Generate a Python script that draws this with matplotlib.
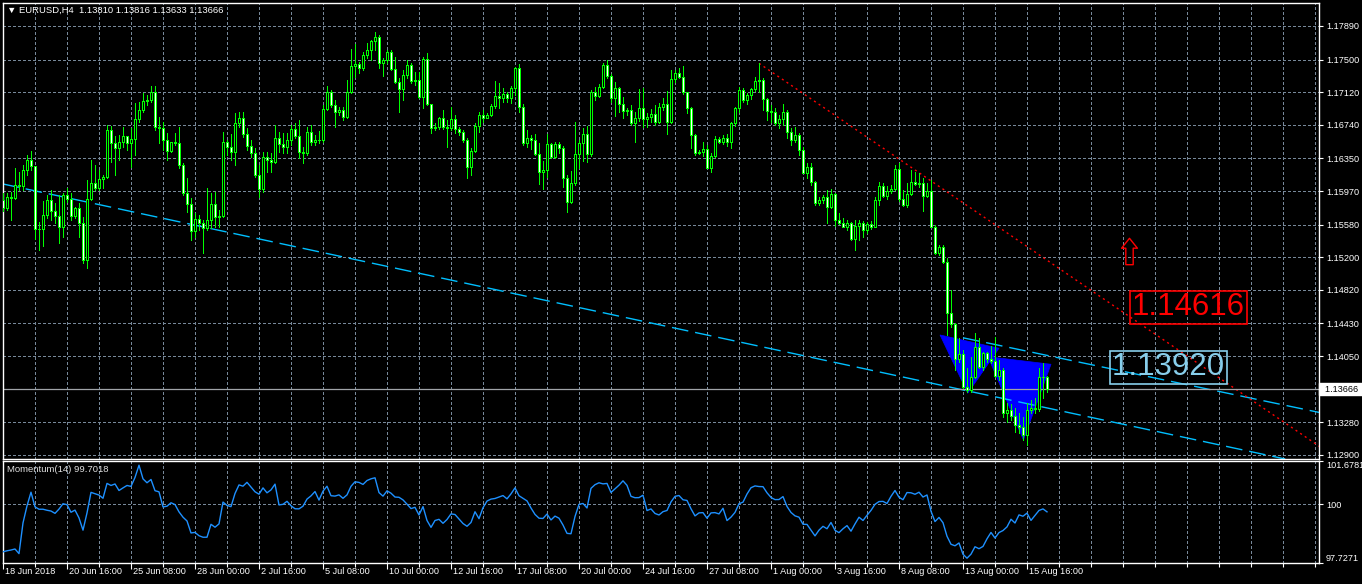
import numpy as np
import matplotlib
matplotlib.use('Agg')
import matplotlib.pyplot as plt
import matplotlib.transforms as mtransforms
from matplotlib.path import Path
from matplotlib.patches import Polygon

plt.rcParams['font.family'] = ['Liberation Sans', 'DejaVu Sans']

# ---- data (EURUSD H4, 18 Jun - 16 Aug 2018) ----
title_text = '\u25bc EURUSD,H4  1.13810 1.13816 1.13633 1.13666'
indicator_text = 'Momentum(14) 99.7018'

first_open = 1.15866
close = [
    1.15769, 1.15897, 1.15890, 1.16037, 1.16029, 1.16215, 1.16332, 1.16262, 1.15525, 1.15533,
    1.15692, 1.15866, 1.15742, 1.15680, 1.15556, 1.15924, 1.15874, 1.15680, 1.15769, 1.15603,
    1.15168, 1.15874, 1.16060, 1.16010, 1.16107, 1.16138, 1.16680, 1.16525, 1.16467, 1.16545,
    1.16611, 1.16525, 1.16572, 1.16805, 1.16913, 1.17018, 1.17029, 1.17126, 1.16719, 1.16700,
    1.16564, 1.16440, 1.16537, 1.16533, 1.16270, 1.15944, 1.15820, 1.15510, 1.15641, 1.15595,
    1.15537, 1.15634, 1.15816, 1.15665, 1.15680, 1.16541, 1.16487, 1.16428, 1.16758, 1.16816,
    1.16634, 1.16494, 1.16417, 1.16157, 1.15990, 1.16370,
    1.16332, 1.16312, 1.16584, 1.16514, 1.16487, 1.16564, 1.16692, 1.16615, 1.16429, 1.16409,
    1.16654, 1.16537, 1.16564, 1.16561, 1.16925, 1.17127, 1.16972, 1.16886, 1.16913, 1.16836,
    1.17119, 1.17429, 1.17445, 1.17398, 1.17553, 1.17611, 1.17716, 1.17759, 1.17456, 1.17499,
    1.17584, 1.17390, 1.17243, 1.17154, 1.17320, 1.17437, 1.17251, 1.17262, 1.17068, 1.17507,
    1.16979, 1.16708, 1.16720, 1.16816, 1.16720, 1.16700, 1.16809, 1.16692, 1.16654, 1.16564,
    1.16254, 1.16437, 1.16731, 1.16855, 1.16824, 1.16855, 1.16956, 1.17080, 1.17049, 1.17096,
    1.17057, 1.17165, 1.17398, 1.16952, 1.16526,
    1.16592, 1.16564, 1.16398, 1.16196, 1.16215, 1.16514, 1.16371, 1.16514, 1.16467, 1.16118,
    1.15847, 1.16060, 1.16398, 1.16526, 1.16630, 1.16398, 1.17119, 1.17080, 1.17185, 1.17437,
    1.17313, 1.17049, 1.17165, 1.16979, 1.16902, 1.16913, 1.16758, 1.16824, 1.16933, 1.16809,
    1.16836, 1.16871, 1.16770, 1.16952, 1.16979, 1.16770, 1.17274, 1.17340, 1.17301, 1.17119,
    1.16933, 1.16623, 1.16409, 1.16421, 1.16460, 1.16243, 1.16382, 1.16576, 1.16545, 1.16592,
    1.16537, 1.16758, 1.16933, 1.17146, 1.17030, 1.17088, 1.17158, 1.17251, 1.17262, 1.17037,
    1.16902, 1.16886, 1.16758, 1.16809, 1.16886, 1.16661,
    1.16564, 1.16622, 1.16448,
    1.16184, 1.16246, 1.16080, 1.15828, 1.15866, 1.15905, 1.15781, 1.15936, 1.15634, 1.15603,
    1.15556, 1.15603, 1.15409, 1.15564, 1.15603, 1.15518, 1.15587, 1.15556, 1.15866, 1.16029,
    1.15913, 1.15975, 1.15991, 1.16223, 1.15874, 1.15808, 1.15936, 1.16080, 1.16053, 1.16060,
    1.15913, 1.15975, 1.15556, 1.15254, 1.15324, 1.15149, 1.14556, 1.14424, 1.14013, 1.14075,
    1.13695, 1.13657, 1.13812, 1.14153, 1.13920, 1.14083, 1.14013, 1.13998, 1.13819, 1.13889,
    1.13393, 1.13424, 1.13354, 1.13250, 1.13230, 1.13133, 1.13424, 1.13443, 1.13432, 1.13812,
    1.13810, 1.13666,
]
high = [
    1.15944, 1.15944, 1.15963, 1.16235, 1.16196, 1.16273, 1.16390, 1.16440, 1.16262, 1.15614,
    1.15859, 1.15924, 1.15983, 1.15828, 1.15924, 1.15944, 1.16002, 1.15944, 1.15789, 1.15828,
    1.15672, 1.16099, 1.16332, 1.16273, 1.16215, 1.16157, 1.16739, 1.16727, 1.16611, 1.16622,
    1.16719, 1.16603, 1.16700, 1.16998, 1.17010, 1.17107, 1.17088, 1.17192, 1.17192, 1.16836,
    1.16777, 1.16642, 1.16545, 1.16642, 1.16719, 1.16293, 1.16118, 1.15886, 1.15711, 1.15692,
    1.15634, 1.16002, 1.15944, 1.15963, 1.15750, 1.16661, 1.16564, 1.16634, 1.16874, 1.16894,
    1.16894, 1.16700, 1.16564, 1.16467, 1.16273, 1.16428,
    1.16429, 1.16409, 1.16739, 1.16661, 1.16642, 1.16642, 1.16739, 1.16758, 1.16797, 1.16487,
    1.16720, 1.16739, 1.16623, 1.16669, 1.16972, 1.17192, 1.17146, 1.17030, 1.16952, 1.16952,
    1.17262, 1.17623, 1.17677, 1.17476, 1.17584, 1.17689, 1.17728, 1.17824, 1.17786, 1.17522,
    1.17611, 1.17611, 1.17534, 1.17282, 1.17379, 1.17495, 1.17456, 1.17359, 1.17359, 1.17534,
    1.17573, 1.16979, 1.16758, 1.16836, 1.16913, 1.16797, 1.16952, 1.16855, 1.16720, 1.16681,
    1.16592, 1.16475, 1.16758, 1.16886, 1.16913, 1.16875, 1.16979, 1.17251, 1.17224, 1.17165,
    1.17127, 1.17196, 1.17417, 1.17445, 1.16979,
    1.16681, 1.16623, 1.16630, 1.16526, 1.16320, 1.16630, 1.16526, 1.16537, 1.16545, 1.16498,
    1.16157, 1.16204, 1.16770, 1.16564, 1.16700, 1.16731, 1.17146, 1.17185, 1.17212, 1.17456,
    1.17495, 1.17328, 1.17243, 1.17185, 1.17068, 1.16933, 1.16971, 1.16886, 1.17158, 1.17173,
    1.16875, 1.16925, 1.16971, 1.16991, 1.17049, 1.17134, 1.17379, 1.17379, 1.17398, 1.17429,
    1.17127, 1.16952, 1.16630, 1.16448, 1.16537, 1.16506, 1.16409, 1.16615, 1.16603, 1.16623,
    1.16630, 1.16770, 1.16952, 1.17185, 1.17173, 1.17107, 1.17173, 1.17301, 1.17456, 1.17282,
    1.17057, 1.16971, 1.16933, 1.16855, 1.16979, 1.16913,
    1.16704, 1.16715, 1.16646,
    1.16487, 1.16293, 1.16293, 1.16091, 1.15905, 1.15925, 1.15983, 1.15991, 1.15944, 1.15711,
    1.15653, 1.15634, 1.15614, 1.15634, 1.15634, 1.15626, 1.15614, 1.15626, 1.15905, 1.16080,
    1.16060, 1.16029, 1.16041, 1.16274, 1.16293, 1.15983, 1.16060, 1.16215, 1.16196, 1.16177,
    1.16119, 1.16060, 1.16099, 1.15576, 1.15343, 1.15343, 1.15188, 1.14820, 1.14432, 1.14258,
    1.14122, 1.13909, 1.14044, 1.14316, 1.14258, 1.14102, 1.14102, 1.14168, 1.14277, 1.14006,
    1.13909, 1.13502, 1.13494, 1.13443, 1.13385, 1.13346, 1.13502, 1.13540, 1.13560, 1.13909,
    1.13967, 1.13816,
]
low = [
    1.15742, 1.15750, 1.15634, 1.15874, 1.15983, 1.15983, 1.16157, 1.16215, 1.15409, 1.15285,
    1.15331, 1.15653, 1.15634, 1.15595, 1.15362, 1.15440, 1.15847, 1.15634, 1.15653, 1.15440,
    1.15130, 1.15072, 1.15866, 1.15983, 1.15983, 1.16002, 1.16118, 1.16312, 1.16157, 1.16332,
    1.16487, 1.16448, 1.16254, 1.16390, 1.16777, 1.16894, 1.16971, 1.17010, 1.16680, 1.16525,
    1.16448, 1.16332, 1.16428, 1.16506, 1.16235, 1.15924, 1.15731, 1.15401, 1.15440, 1.15517,
    1.15246, 1.15517, 1.15537, 1.15556, 1.15556, 1.15665, 1.16390, 1.16332, 1.16273, 1.16719,
    1.16603, 1.16448, 1.16370, 1.16138, 1.15905, 1.15963,
    1.16196, 1.16196, 1.16293, 1.16429, 1.16409, 1.16409, 1.16506, 1.16584, 1.16351, 1.16293,
    1.16390, 1.16506, 1.16506, 1.16526, 1.16545, 1.16913, 1.16952, 1.16720, 1.16855, 1.16797,
    1.16824, 1.17107, 1.17301, 1.17340, 1.17379, 1.17514, 1.17495, 1.17611, 1.17398, 1.17313,
    1.17456, 1.17379, 1.17224, 1.16886, 1.17030, 1.17282, 1.17224, 1.17204, 1.17049, 1.16933,
    1.16972, 1.16642, 1.16681, 1.16692, 1.16692, 1.16487, 1.16681, 1.16642, 1.16623, 1.16545,
    1.16119, 1.16157, 1.16429, 1.16654, 1.16778, 1.16816, 1.16848, 1.16941, 1.16933, 1.17003,
    1.17010, 1.16991, 1.17088, 1.16894, 1.16506,
    1.16487, 1.16460, 1.16390, 1.16049, 1.15994, 1.16138, 1.16351, 1.16351, 1.16409, 1.16022,
    1.15731, 1.15828, 1.16041, 1.16235, 1.16320, 1.16312, 1.16382, 1.17030, 1.17068, 1.17173,
    1.17282, 1.17010, 1.16847, 1.16894, 1.16824, 1.16855, 1.16739, 1.16537, 1.16785, 1.16719,
    1.16719, 1.16770, 1.16739, 1.16758, 1.16913, 1.16630, 1.16758, 1.17243, 1.17282, 1.17096,
    1.16875, 1.16475, 1.16390, 1.16398, 1.16382, 1.16235, 1.16188, 1.16371, 1.16526, 1.16522,
    1.16498, 1.16467, 1.16731, 1.16886, 1.17003, 1.16979, 1.17041, 1.17134, 1.17119, 1.16913,
    1.16797, 1.16778, 1.16739, 1.16708, 1.16739, 1.16584,
    1.16506, 1.16541, 1.16390,
    1.16177, 1.16119, 1.16041, 1.15808, 1.15808, 1.15835, 1.15603, 1.15770, 1.15564, 1.15587,
    1.15549, 1.15518, 1.15401, 1.15285, 1.15401, 1.15432, 1.15479, 1.15525, 1.15549, 1.15808,
    1.15905, 1.15874, 1.15944, 1.15983, 1.15859, 1.15797, 1.15789, 1.15925, 1.16041, 1.16022,
    1.15742, 1.15905, 1.15549, 1.15238, 1.15227, 1.15130, 1.14296, 1.14393, 1.13889, 1.13986,
    1.13676, 1.13637, 1.13637, 1.13792, 1.13909, 1.13889, 1.13986, 1.13967, 1.13812, 1.13773,
    1.13346, 1.13288, 1.13308, 1.13172, 1.13153, 1.13075, 1.13017, 1.13385, 1.13385, 1.13416,
    1.13560, 1.13633,
]

# momentum values of the first 14 bars (their reference closes are off-screen)
momentum_head = [98.16, 98.20, 98.23, 98.27, 98.09, 99.28, 99.94, 100.47, 99.90, 99.81,
                 99.81, 99.77, 99.74, 99.65]
momentum_period = 14

date_labels = ['18 Jun 2018', '20 Jun 16:00', '25 Jun 08:00', '28 Jun 00:00', '2 Jul 16:00',
               '5 Jul 08:00', '10 Jul 00:00', '12 Jul 16:00', '17 Jul 08:00', '20 Jul 00:00',
               '24 Jul 16:00', '27 Jul 08:00', '1 Aug 00:00', '3 Aug 16:00', '8 Aug 08:00',
               '13 Aug 00:00', '15 Aug 16:00']
price_ticks = [1.12900, 1.13280, 1.14050, 1.14430, 1.14820, 1.15200, 1.15580,
               1.15970, 1.16350, 1.16740, 1.17120, 1.17500, 1.17890]
momentum_ticks = [97.7271, 100, 101.6781]
momentum_tick_labels = ['97.7271', '100', '101.6781']
bid_price = 1.13666

# chart objects
lower_channel = [(0, 1.16052), (300, 1.13058)]
upper_channel_bars = [240, 340]
upper_channel_prices = [1.14263, 1.13288]
red_line_bars = [189, 340]
red_line_prices = [1.17456, 1.12653]
triangle_1 = [(234.25, 1.14296), (249.0, 1.14141), (241.2, 1.13618)]
triangle_2 = [(246.25, 1.14043), (262.0, 1.13955), (255.1, 1.13074)]
label_red = (296.4, 1.14616, '1.14616')
label_blue = (291.4, 1.13918, '1.13920')
arrow_bar, arrow_price = 281.5, 1.15273

# ---- colours ----
BG = 'black'
CANDLE = '#00ff00'
GRID = '#778899'
CHANNEL = '#00bfff'
LIGHTBLUE = '#87ceeb'

close = np.array(close)
high = np.array(high)
low = np.array(low)
opens = np.concatenate([[first_open], close[:-1]])
bars = np.arange(len(close))

momentum = np.array(momentum_head + list(close[momentum_period:] / close[:-momentum_period] * 100))

W, H = 1362, 584
fig = plt.figure(figsize=(W / 100, H / 100), dpi=100, facecolor=BG)


def frac(x0, y0, x1, y1):
    return [x0 / W, 1 - y1 / H, (x1 - x0) / W, (y1 - y0) / H]


ax = fig.add_axes(frac(2.5, 3.3, 1319, 459), facecolor=BG)
axm = fig.add_axes(frac(2.5, 461, 1319, 563), facecolor=BG, sharex=ax)

xmin, xmax = -0.125, 329
ax.set_xlim(xmin, xmax)
ax.set_ylim(1.12853, 1.18154)
axm.set_ylim(97.7271, 101.6781)

for a in (ax, axm):
    for s in a.spines.values():
        s.set_color('white')
        s.set_linewidth(1)
    for xv in range(8, 329, 8):
        a.axvline(xv, color=GRID, lw=0.75, dashes=(2.2, 2.2), antialiased=False, zorder=0)

for p in price_ticks:
    ax.axhline(p, color=GRID, lw=0.75, dashes=(2.2, 2.2), antialiased=False, zorder=0)
axm.axhline(100, color=GRID, lw=0.75, dashes=(2.2, 2.2), antialiased=False, zorder=0)

# price axis
ax.yaxis.tick_right()
ax.set_yticks(price_ticks)
ax.set_yticklabels(['%.5f' % p for p in price_ticks])
ax.tick_params(axis='y', colors='white', labelsize=6.6, length=3, width=0.8, pad=2)
ax.tick_params(axis='x', which='both', bottom=False, labelbottom=False)

axm.yaxis.tick_right()
axm.set_yticks(momentum_ticks)
axm.set_yticklabels(momentum_tick_labels)
axm.tick_params(axis='y', colors='white', labelsize=6.6, length=3, width=0.8, pad=2)
ylabels = axm.get_yticklabels()
ylabels[0].set_verticalalignment('bottom')
ylabels[2].set_verticalalignment('top')

# time axis
axm.set_xticks(range(0, 257, 16))
axm.set_xticklabels(date_labels)
axm.set_xticks(range(8, 329, 8), minor=True)
axm.tick_params(axis='x', which='major', colors='white', labelsize=6.6, length=4, width=0.8, pad=0.5)
axm.tick_params(axis='x', which='minor', colors='white', length=3, width=0.8)
shift = mtransforms.ScaledTranslation(2 / 100, 2 / 100, fig.dpi_scale_trans)
for lab in axm.get_xticklabels():
    lab.set_horizontalalignment('left')
    lab.set_transform(lab.get_transform() + shift)

# chart objects behind the candles
for tri in (triangle_1, triangle_2):
    ax.add_patch(Polygon(tri, closed=True, facecolor='#0000ff', edgecolor='#0000ff', lw=0.5, zorder=1))

ax.axline(lower_channel[0], lower_channel[1], color=CHANNEL, lw=1, dashes=(12, 5), zorder=2)
ax.plot(upper_channel_bars, upper_channel_prices, color=CHANNEL, lw=1, dashes=(12, 5), zorder=2)
ax.plot(red_line_bars, red_line_prices, color='#ff0000', lw=1, dashes=(1.5, 2.5), zorder=2)
ax.axhline(bid_price, color='#a0a4a8', lw=0.9, zorder=2)

# candles
ax.vlines(bars, low, high, colors=CANDLE, linewidth=0.72, antialiased=False, zorder=3)
bull = close >= opens
body_bottom = np.minimum(opens, close)
body_height = np.abs(close - opens)
ax.bar(bars, body_height, bottom=body_bottom, width=0.5,
       color=np.where(bull, 'black', 'white'), edgecolor=CANDLE, linewidth=0.72,
       antialiased=False, zorder=4)

# labels on the chart
for (bx, py, txt), col in ((label_red, '#ff0000'), (label_blue, LIGHTBLUE)):
    ax.text(bx, py, txt, color=col, fontsize=22.5, ha='center', va='center',
            zorder=6, bbox=dict(boxstyle='square,pad=0.06', fc='none', ec=col, lw=1.2))

arrow_path = Path([(0, 1), (-0.6, 0.25), (-0.28, 0.25), (-0.28, -1), (0.28, -1),
                   (0.28, 0.25), (0.6, 0.25), (0, 1)], closed=True)
ax.plot([arrow_bar], [arrow_price], marker=arrow_path, markersize=19, mfc='none',
        mec='#ff0000', mew=1, zorder=6)

# bid price box on the scale
bid_tr = mtransforms.blended_transform_factory(ax.transAxes, ax.transData)
ax.text(1.0, bid_price, '  %.5f  ' % bid_price,
        transform=bid_tr + mtransforms.ScaledTranslation(1 / 100, 0, fig.dpi_scale_trans),
        color='black', fontsize=6.6, ha='left', va='center', clip_on=False, zorder=10,
        bbox=dict(boxstyle='square,pad=0.15', fc='white', ec='white'))

# momentum
axm.plot(bars, momentum, color='#1e90ff', lw=1, zorder=3)

fig.text(7 / W, 1 - 10 / H, title_text, color='white', fontsize=6.8, ha='left', va='center')
fig.text(7 / W, 1 - 470 / H, indicator_text, color='#e0e0e0', fontsize=6.8, ha='left', va='center')

fig.savefig('out.png', dpi=100, facecolor=BG)
